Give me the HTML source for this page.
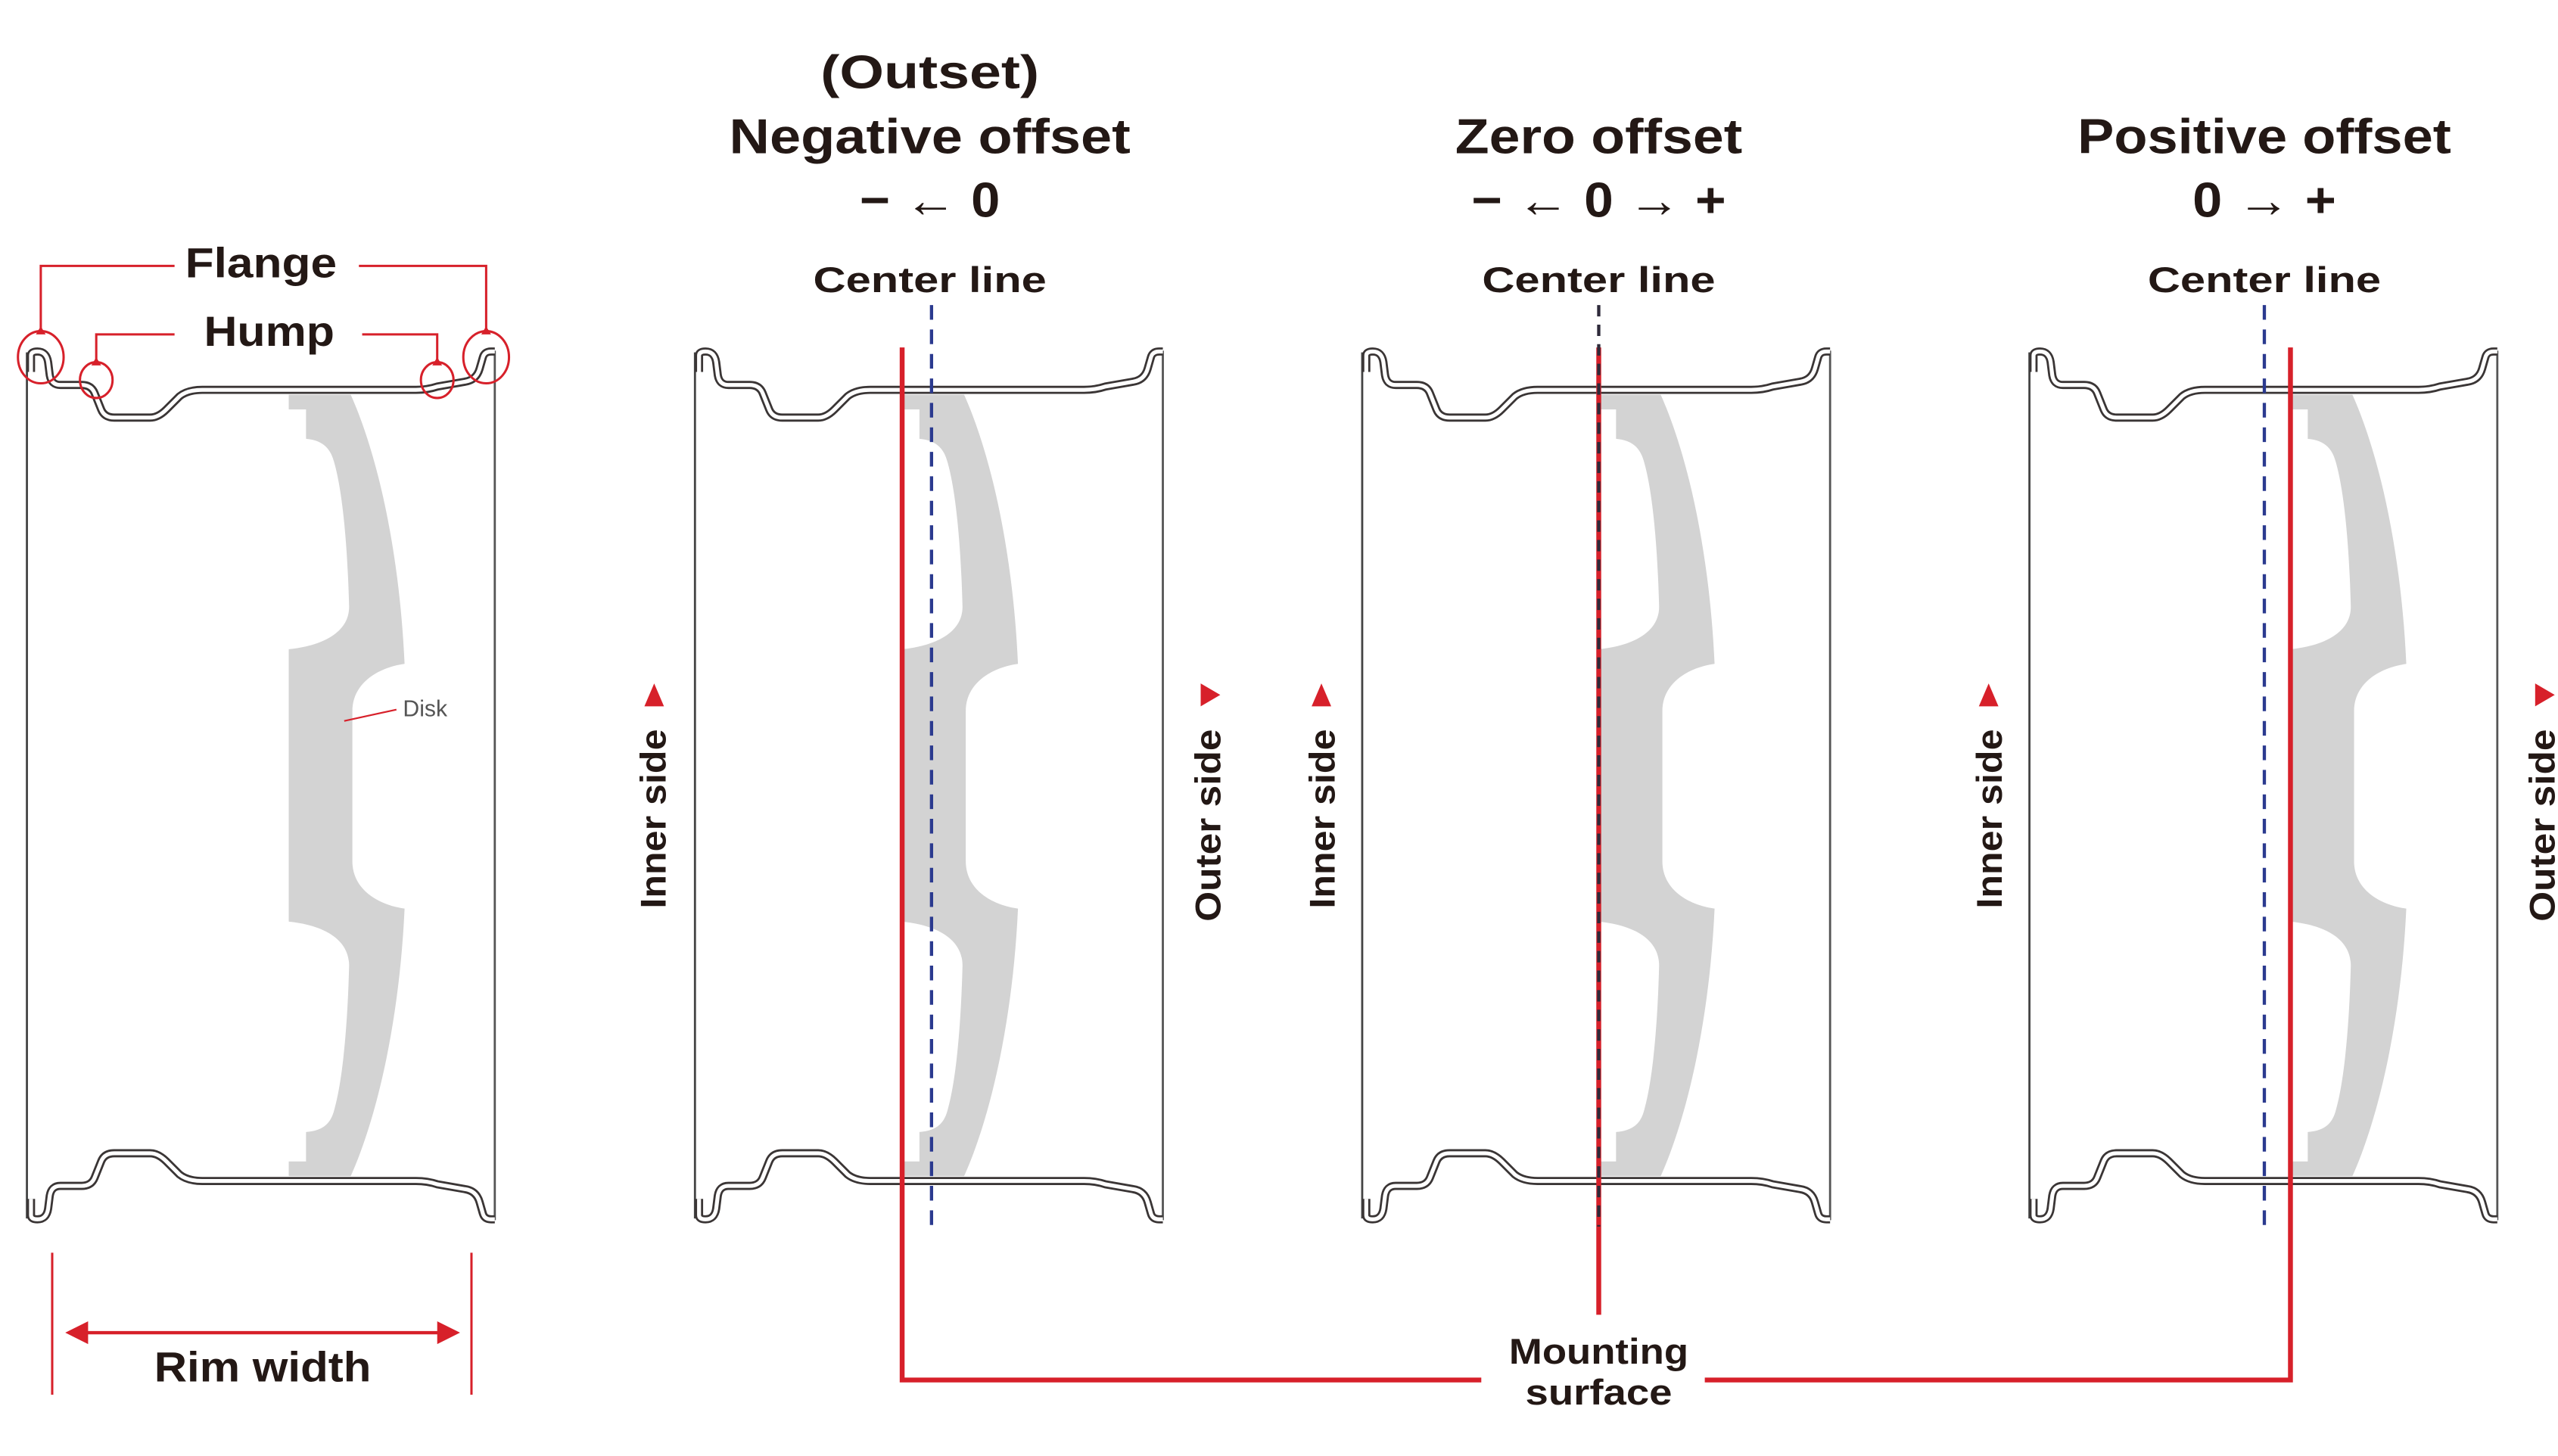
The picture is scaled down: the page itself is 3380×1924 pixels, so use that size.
<!DOCTYPE html>
<html><head><meta charset="utf-8"><style>
html,body{margin:0;padding:0;background:#fff;}
svg{display:block;}
text{font-family:"Liberation Sans",sans-serif;font-weight:bold;fill:#231815;}
</style></head><body>
<svg width="3380" height="1924" viewBox="0 0 1568 892.6" preserveAspectRatio="none" xmlns="http://www.w3.org/2000/svg">
<defs>
  <g id="rimTop">
    <path d="M19,228 L19,218 Q19,215.5 23,215.5 Q28.5,215.5 29.5,222 L30.5,230 Q31.5,236 37,236 L50,236 Q56,236 58,241 L62,251 Q64,256 70,256 L92,256 Q97,256 102,251 L110,243 Q115,239 124,239 L255,239 Q262,239 268,237 L285,234 Q292,233 294,226 L296,219 Q297,215.5 301,215.5 L303.3,215.5" fill="none" stroke="#3a3535" stroke-width="5" stroke-linejoin="round"/>
    <path d="M19,228 L19,218 Q19,215.5 23,215.5 Q28.5,215.5 29.5,222 L30.5,230 Q31.5,236 37,236 L50,236 Q56,236 58,241 L62,251 Q64,256 70,256 L92,256 Q97,256 102,251 L110,243 Q115,239 124,239 L255,239 Q262,239 268,237 L285,234 Q292,233 294,226 L296,219 Q297,215.5 301,215.5 L303.3,215.5" fill="none" stroke="#fff" stroke-width="2.4" stroke-linejoin="round"/>
  </g>
  <g id="rim">
    <line x1="16.5" y1="216" x2="16.5" y2="747" stroke="#444" stroke-width="1.3"/>
    <line x1="303.3" y1="215" x2="303.3" y2="748" stroke="#555" stroke-width="1.3"/>
    <use href="#rimTop"/>
    <use href="#rimTop" transform="translate(0,963) scale(1,-1)"/>
  </g>
  <path id="disk" fill="#d3d3d3" d="M0,242 L38,242 C55,280 68,340 71,407 C56,409 39,418 39,436 L39,528 C39,546 56,555 71,557 C68,623 55,683 38,721 L0,721 L0,712 L10.6,712 L10.6,694 C22,693 26,688 28,680 C33,662 36,630 37,592 C37,575 20,567 0,565 L0,398 C20,396 37,388 37,372 C36,334 33,302 28,284 C26,276 22,270 10.6,269 L10.6,251 L0,251 Z"/>
</defs>

<use href="#disk" transform="translate(177,0)"/>
<use href="#disk" transform="translate(553,0)"/>
<use href="#disk" transform="translate(980,0)"/>
<use href="#disk" transform="translate(1404,0)"/>

<use href="#rim"/>
<use href="#rim" transform="translate(409.5,0)"/>
<use href="#rim" transform="translate(818.5,0)"/>
<use href="#rim" transform="translate(1227.5,0)"/>

<g stroke="#d7202a" stroke-width="3" fill="none">
  <polyline points="553,213 553,846 908,846"/>
  <polyline points="1404,213 1404,846 1045,846"/>
  <line x1="980" y1="213" x2="980" y2="806"/>
</g>
<g stroke="#2b3a8f" stroke-width="2" stroke-dasharray="9,6" fill="none">
  <line x1="571" y1="187" x2="571" y2="752"/>
  <line x1="1388" y1="187" x2="1388" y2="752"/>
</g>
<line x1="980" y1="187" x2="980" y2="752" stroke="#2e2a3a" stroke-width="2" stroke-dasharray="7,5"/>

<g stroke="#d7202a" stroke-width="1.4" fill="none">
  <polyline points="107,163 25,163 25,203"/>
  <polyline points="220,163 298,163 298,203"/>
  <polyline points="107,205 59,205 59,222"/>
  <polyline points="222,205 268,205 268,222"/>
  <ellipse cx="25" cy="219" rx="14" ry="16"/>
  <ellipse cx="298" cy="219" rx="14" ry="16"/>
  <ellipse cx="59" cy="233" rx="10" ry="11"/>
  <ellipse cx="268" cy="233" rx="10" ry="11"/>
</g>
<g fill="#d7202a">
  <polygon points="22,205 28,205 25,200"/>
  <polygon points="295,205 301,205 298,200"/>
  <polygon points="56,224 62,224 59,219"/>
  <polygon points="265,224 271,224 268,219"/>
</g>
<text x="160" y="170" font-size="26" text-anchor="middle" textLength="93" lengthAdjust="spacingAndGlyphs">Flange</text>
<text x="165" y="212" font-size="26" text-anchor="middle" textLength="80" lengthAdjust="spacingAndGlyphs">Hump</text>

<line x1="211" y1="442" x2="243" y2="435" stroke="#d7202a" stroke-width="1"/>
<text x="247" y="439" font-size="14" style="font-weight:normal;fill:#555">Disk</text>

<g stroke="#d7202a" stroke-width="1.4">
  <line x1="32" y1="768" x2="32" y2="855"/>
  <line x1="289" y1="768" x2="289" y2="855"/>
  <line x1="50" y1="817" x2="272" y2="817" stroke-width="2"/>
</g>
<polygon points="40,817 54,810 54,824" fill="#d7202a"/>
<polygon points="282,817 268,810 268,824" fill="#d7202a"/>
<text x="161" y="847" font-size="26" text-anchor="middle" textLength="133" lengthAdjust="spacingAndGlyphs">Rim width</text>

<text x="570" y="54" font-size="29" text-anchor="middle" textLength="134" lengthAdjust="spacingAndGlyphs">(Outset)</text>
<text x="570" y="94" font-size="30" text-anchor="middle" textLength="246" lengthAdjust="spacingAndGlyphs">Negative offset</text>
<text x="570" y="133" font-size="30" text-anchor="middle" textLength="86" lengthAdjust="spacingAndGlyphs">− ← 0</text>
<text x="980" y="94" font-size="30" text-anchor="middle" textLength="176" lengthAdjust="spacingAndGlyphs">Zero offset</text>
<text x="980" y="133" font-size="30" text-anchor="middle" textLength="156" lengthAdjust="spacingAndGlyphs">− ← 0 → +</text>
<text x="1388" y="94" font-size="30" text-anchor="middle" textLength="229" lengthAdjust="spacingAndGlyphs">Positive offset</text>
<text x="1388" y="133" font-size="30" text-anchor="middle" textLength="88" lengthAdjust="spacingAndGlyphs">0 → +</text>
<text x="570" y="179" font-size="22" text-anchor="middle" textLength="143" lengthAdjust="spacingAndGlyphs">Center line</text>
<text x="980" y="179" font-size="22" text-anchor="middle" textLength="143" lengthAdjust="spacingAndGlyphs">Center line</text>
<text x="1388" y="179" font-size="22" text-anchor="middle" textLength="143" lengthAdjust="spacingAndGlyphs">Center line</text>

<text font-size="22" text-anchor="middle" transform="translate(408,502) rotate(-90)" textLength="110" lengthAdjust="spacingAndGlyphs">Inner side</text>
<text font-size="22" text-anchor="middle" transform="translate(818,502) rotate(-90)" textLength="110" lengthAdjust="spacingAndGlyphs">Inner side</text>
<text font-size="22" text-anchor="middle" transform="translate(1227,502) rotate(-90)" textLength="110" lengthAdjust="spacingAndGlyphs">Inner side</text>
<text font-size="22" text-anchor="middle" transform="translate(748,506) rotate(-90)" textLength="118" lengthAdjust="spacingAndGlyphs">Outer side</text>
<text font-size="22" text-anchor="middle" transform="translate(1566,506) rotate(-90)" textLength="118" lengthAdjust="spacingAndGlyphs">Outer side</text>
<g fill="#d7202a">
  <polygon points="395,433 407,433 401,419"/>
  <polygon points="804,433 816,433 810,419"/>
  <polygon points="1213,433 1225,433 1219,419"/>
  <polygon points="736,419 736,433 748,426"/>
  <polygon points="1554,419 1554,433 1566,426"/>
</g>

<text x="980" y="836" font-size="22" text-anchor="middle" textLength="110" lengthAdjust="spacingAndGlyphs">Mounting</text>
<text x="980" y="861" font-size="22" text-anchor="middle" textLength="90" lengthAdjust="spacingAndGlyphs">surface</text>
</svg>
</body></html>
